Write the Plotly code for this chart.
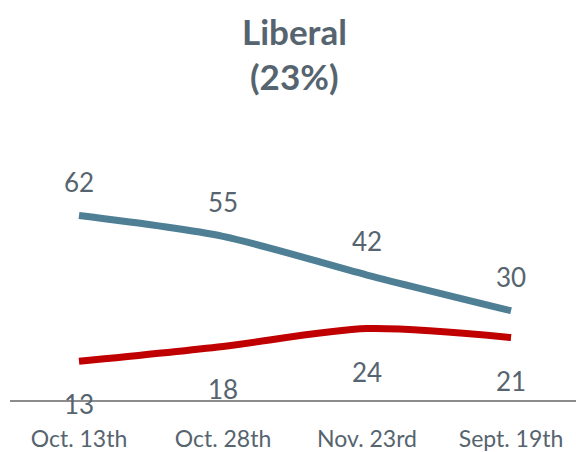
import plotly.graph_objects as go

dates = ["Oct. 13th", "Oct. 28th", "Nov. 23rd", "Sept. 19th"]
blue_vals = [62, 55, 42, 30]
red_vals = [13, 18, 24, 21]
title_lines = ["Liberal", "(23%)"]

txt = "#56646F"
font = "Lato, Open Sans, sans-serif"

fig = go.Figure()
fig.add_trace(go.Scatter(x=dates, y=blue_vals, mode="lines",
                         line=dict(color="#4E7F94", width=7, shape="spline", smoothing=0.8)))
fig.add_trace(go.Scatter(x=dates, y=red_vals, mode="lines",
                         line=dict(color="#C00000", width=7, shape="spline", smoothing=0.8)))

for d, v in zip(dates, blue_vals):
    fig.add_annotation(x=d, y=v, text=str(v), showarrow=False, yshift=34,
                       font=dict(size=26, color=txt, family=font))
for d, v in zip(dates, red_vals):
    fig.add_annotation(x=d, y=v, text=str(v), showarrow=False, yshift=-43,
                       font=dict(size=26, color=txt, family=font))

# title as two centred lines
for t, yy in zip(title_lines, [1.55, 1.3625]):
    fig.add_annotation(xref="paper", yref="paper", x=0.5035, y=yy, text="<b>%s</b>" % t,
                       showarrow=False, xanchor="center", yanchor="middle",
                       font=dict(size=35, color=txt, family=font))

fig.update_layout(
    width=576, height=452,
    margin=dict(l=10, r=0, t=162, b=50),
    paper_bgcolor="white", plot_bgcolor="white",
    showlegend=False,
    xaxis=dict(range=[-0.479, 3.451], showgrid=False, showline=True,
               linecolor="#8C8C8C", linewidth=2, ticks="", ticklabelstandoff=17,
               tickfont=dict(size=23, color=txt, family=font)),
    yaxis=dict(range=[0, 80], visible=False, showgrid=False, zeroline=False),
)

fig.write_html("out.html", config={"displayModeBar": False},
               post_script="document.body.style.margin='0';document.body.style.overflow='hidden';")
